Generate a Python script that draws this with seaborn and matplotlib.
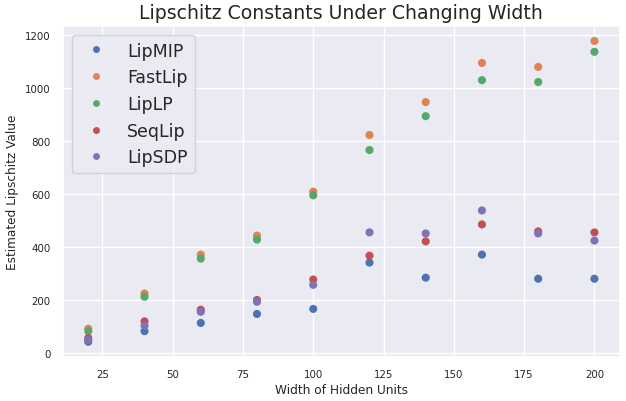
import numpy as np
import pandas as pd
import matplotlib
matplotlib.use("Agg")
import matplotlib.pyplot as plt
import seaborn as sns

widths = [20, 40, 60, 80, 100, 120, 140, 160, 180, 200]
lipmip = [42, 82, 113, 147, 166, 341, 284, 371, 280, 280]
fastlip = [91, 224, 371, 443, 609, 823, 947, 1095, 1080, 1178]
liplp = [82, 212, 356, 428, 595, 766, 894, 1030, 1023, 1137]
seqlip = [56, 119, 163, 200, 277, 367, 421, 485, 459, 455]
lipsdp = [50, 103, 155, 193, 257, 455, 451, 538, 451, 424]

methods = ["LipMIP", "FastLip", "LipLP", "SeqLip", "LipSDP"]
series = [lipmip, fastlip, liplp, seqlip, lipsdp]

rows = []
for m, vals in zip(methods, series):
    for w, v in zip(widths, vals):
        rows.append({"width": w, "value": v, "method": m})
df = pd.DataFrame(rows)

sns.set_theme(style="darkgrid")
plt.rcParams["font.family"] = ["DejaVu Sans"]
fig, ax = plt.subplots(figsize=(6.26, 4.02), dpi=100)
fig.subplots_adjust(left=0.1006, right=0.990, top=0.933, bottom=0.11)
sns.scatterplot(data=df, x="width", y="value", hue="method", hue_order=methods,
                palette="deep", s=34, linewidth=0, ax=ax)
ax.set_title("Lipschitz Constants Under Changing Width", fontsize=13.6)
ax.set_xlabel("Width of Hidden Units", fontsize=8.7, labelpad=3)
ax.set_ylabel("Estimated Lipschitz Value", fontsize=8.7)
ax.tick_params(labelsize=7.4, pad=3)
ax.set_xticks([25, 50, 75, 100, 125, 150, 175, 200])
ax.set_yticks([0, 200, 400, 600, 800, 1000, 1200])
leg = ax.legend(loc="upper left", fontsize=12.5, markerscale=0.85, title=None)
fig.savefig("out.png", dpi=100)
